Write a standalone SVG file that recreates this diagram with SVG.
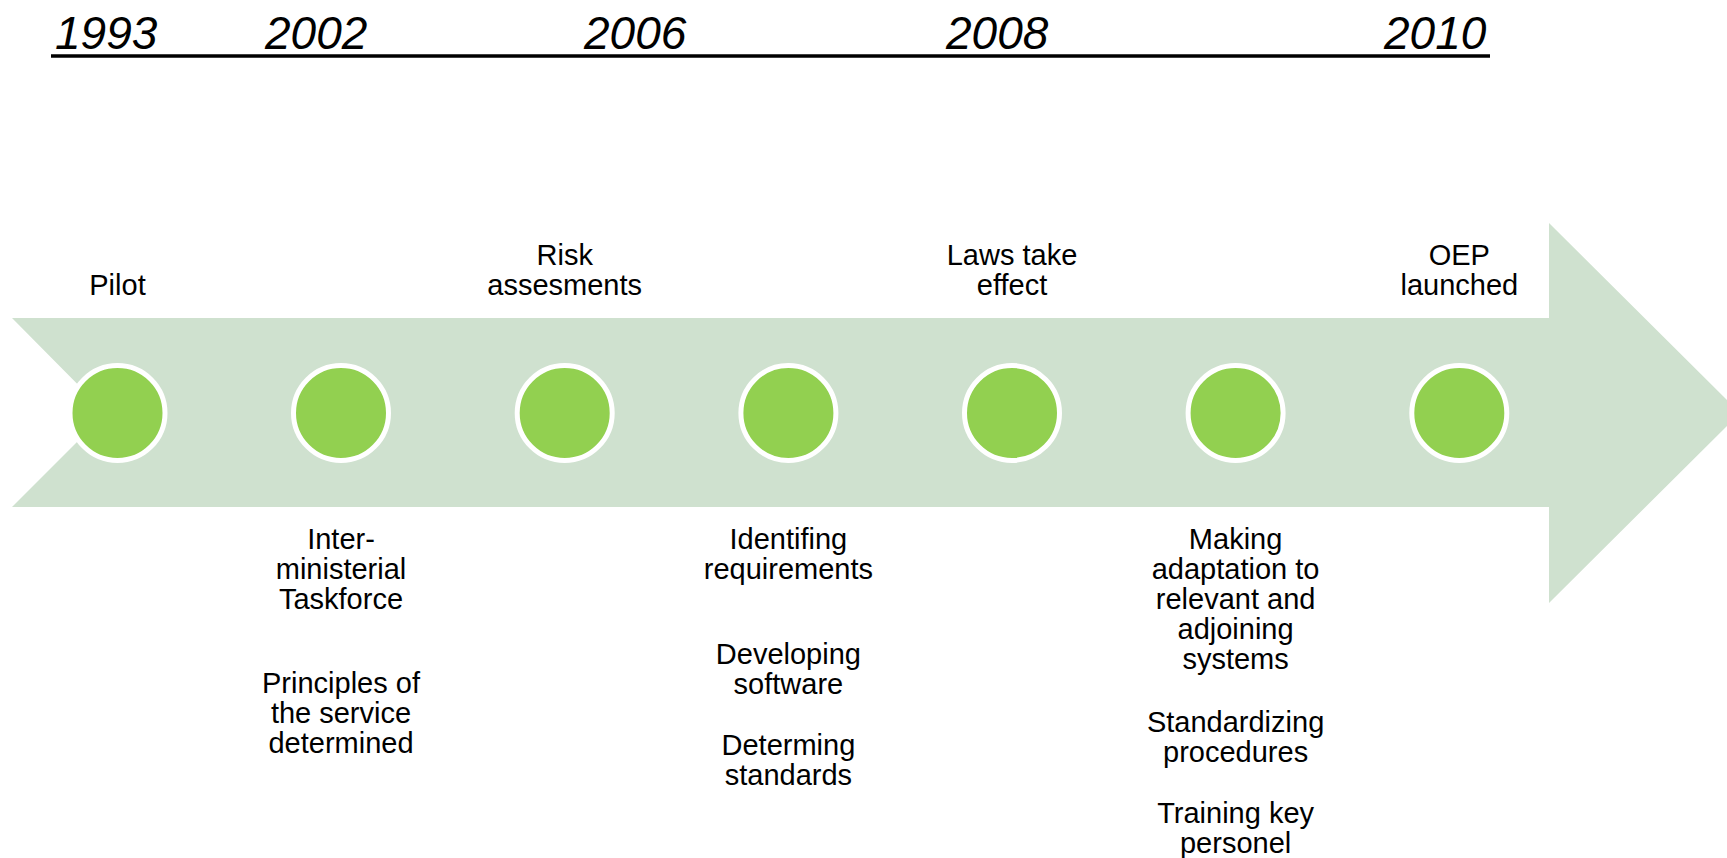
<svg xmlns="http://www.w3.org/2000/svg" width="1727" height="858" viewBox="0 0 1727 858">
<style>
.yr{font-family:"Liberation Sans",Arial,sans-serif;font-style:italic;font-size:46px;fill:#000}
.lb{font-family:"Liberation Sans",Arial,sans-serif;font-size:29px;fill:#000;text-anchor:middle}
.dot{fill:#92D050;stroke:#FFFFFF;stroke-width:5}
</style>
<rect x="0" y="0" width="1727" height="858" fill="#FFFFFF"/>
<g id="year-axis">
<line x1="51" y1="56" x2="1490" y2="56" stroke="#000" stroke-width="3.5"/>
<text class="yr" x="55" y="49">1993</text>
<text class="yr" x="265" y="49">2002</text>
<text class="yr" x="584" y="49">2006</text>
<text class="yr" x="946" y="49">2008</text>
<text class="yr" x="1384" y="49">2010</text>
</g>
<g id="timeline-arrow">
<polygon points="12,318 1549,318 1549,223 1740,413 1549,603 1549,507 12,507 106,413" fill="#CFE1CF"/>
</g>
<g id="connectors"></g>
<g id="node-pilot">
<circle class="dot" cx="117.5" cy="413" r="47.5"/>
<text class="lb" x="117.5" y="295">Pilot</text>
</g>
<g id="node-taskforce">
<circle class="dot" cx="341" cy="413" r="47.5"/>
<text class="lb" x="341" y="549">Inter-</text>
<text class="lb" x="341" y="579">ministerial</text>
<text class="lb" x="341" y="609">Taskforce</text>
<text class="lb" x="341" y="693">Principles of</text>
<text class="lb" x="341" y="723">the service</text>
<text class="lb" x="341" y="753">determined</text>
</g>
<g id="node-risk">
<circle class="dot" cx="564.7" cy="413" r="47.5"/>
<text class="lb" x="564.7" y="265">Risk</text>
<text class="lb" x="564.7" y="295">assesments</text>
</g>
<g id="node-requirements">
<circle class="dot" cx="788.4" cy="413" r="47.5"/>
<text class="lb" x="788.4" y="549">Identifing</text>
<text class="lb" x="788.4" y="579">requirements</text>
<text class="lb" x="788.4" y="664">Developing</text>
<text class="lb" x="788.4" y="694">software</text>
<text class="lb" x="788.4" y="755">Determing</text>
<text class="lb" x="788.4" y="785">standards</text>
</g>
<g id="node-laws">
<circle class="dot" cx="1012" cy="413" r="47.5"/>
<text class="lb" x="1012" y="265">Laws take</text>
<text class="lb" x="1012" y="295">effect</text>
</g>
<g id="node-adaptation">
<circle class="dot" cx="1235.6" cy="413" r="47.5"/>
<text class="lb" x="1235.6" y="549">Making</text>
<text class="lb" x="1235.6" y="579">adaptation to</text>
<text class="lb" x="1235.6" y="609">relevant and</text>
<text class="lb" x="1235.6" y="639">adjoining</text>
<text class="lb" x="1235.6" y="669">systems</text>
<text class="lb" x="1235.6" y="732">Standardizing</text>
<text class="lb" x="1235.6" y="762">procedures</text>
<text class="lb" x="1235.6" y="823">Training key</text>
<text class="lb" x="1235.6" y="853">personel</text>
</g>
<g id="node-oep">
<circle class="dot" cx="1459.3" cy="413" r="47.5"/>
<text class="lb" x="1459.3" y="265">OEP</text>
<text class="lb" x="1459.3" y="295">launched</text>
</g>
</svg>
